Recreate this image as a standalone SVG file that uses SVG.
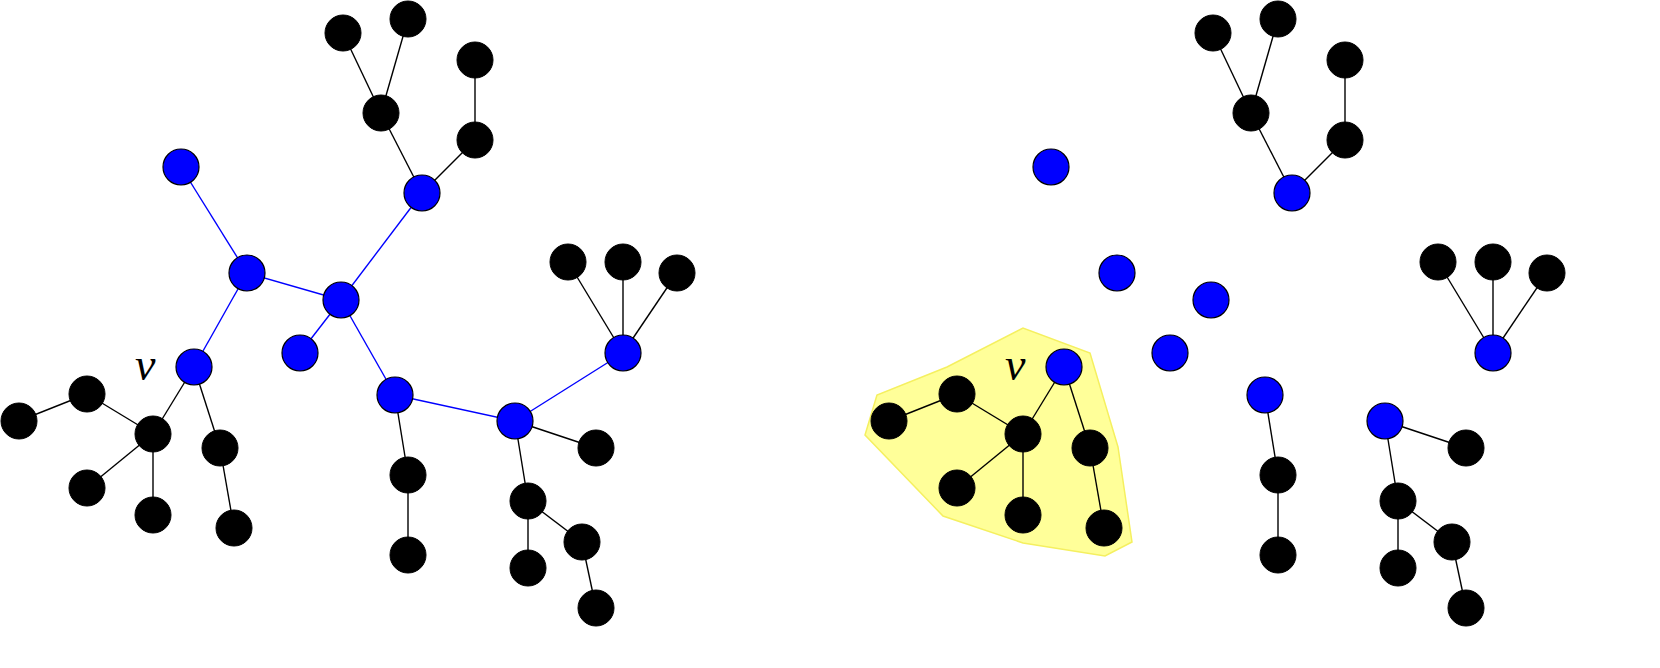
<svg xmlns="http://www.w3.org/2000/svg" xmlns:xlink="http://www.w3.org/1999/xlink" width="1660" height="668" viewBox="0 0 1660 668">
<style>
.b{fill:#0000ff;stroke:#000;stroke-width:1.2}
.k{fill:#000;stroke:#000}
.eb{stroke:#0000ff;stroke-width:1.4}
.ek{stroke:#000;stroke-width:1.4}
.v{font-family:'Liberation Serif',serif;font-style:italic;font-size:46px}
</style>
<rect width="1660" height="668" fill="#fff"/>
<polygon id="hull" points="877,395 865,435 943,516 1023,543 1105,556 1132,542 1118,447 1090,353 1023,328 947,367" fill="#ffff99" stroke="#f5f060" stroke-width="1.5"/>
<g id="connectors">
<g class="eb">
<line x1="181" y1="167" x2="247" y2="273"/><line x1="247" y1="273" x2="194" y2="367"/><line x1="247" y1="273" x2="341" y2="300"/><line x1="341" y1="300" x2="422" y2="193"/><line x1="341" y1="300" x2="300" y2="353"/><line x1="341" y1="300" x2="395" y2="395"/><line x1="395" y1="395" x2="515" y2="421"/><line x1="515" y1="421" x2="623" y2="353"/>
</g>
<g id="blackEdges" class="ek">
<line x1="343" y1="33" x2="381" y2="113"/><line x1="408" y1="19" x2="381" y2="113"/><line x1="381" y1="113" x2="422" y2="193"/><line x1="475" y1="60" x2="475" y2="140"/><line x1="475" y1="140" x2="422" y2="193"/>
<line x1="568" y1="262" x2="623" y2="353"/><line x1="623" y1="262" x2="623" y2="353"/><line x1="677" y1="273" x2="623" y2="353"/>
<line x1="194" y1="367" x2="153" y2="434"/><line x1="194" y1="367" x2="220" y2="448"/><line x1="87" y1="394" x2="19" y2="421"/><line x1="87" y1="394" x2="153" y2="434"/><line x1="153" y1="434" x2="87" y2="488"/><line x1="153" y1="434" x2="153" y2="515"/><line x1="220" y1="448" x2="234" y2="528"/>
<line x1="395" y1="395" x2="408" y2="475"/><line x1="408" y1="475" x2="408" y2="555"/>
<line x1="515" y1="421" x2="596" y2="448"/><line x1="515" y1="421" x2="528" y2="501"/><line x1="528" y1="501" x2="582" y2="542"/><line x1="528" y1="501" x2="528" y2="568"/><line x1="582" y1="542" x2="596" y2="608"/>
</g>
<use xlink:href="#blackEdges" x="870"/>
</g>
<g id="nodesLeft">
<g class="b">
<circle cx="181" cy="167" r="18"/><circle cx="247" cy="273" r="18"/><circle cx="341" cy="300" r="18"/><circle cx="422" cy="193" r="18"/><circle cx="194" cy="367" r="18"/><circle cx="300" cy="353" r="18"/><circle cx="395" cy="395" r="18"/><circle cx="515" cy="421" r="18"/><circle cx="623" cy="353" r="18"/>
</g>
<g class="k">
<circle cx="343" cy="33" r="18"/><circle cx="408" cy="19" r="18"/><circle cx="381" cy="113" r="18"/><circle cx="475" cy="60" r="18"/><circle cx="475" cy="140" r="18"/>
<circle cx="568" cy="262" r="18"/><circle cx="623" cy="262" r="18"/><circle cx="677" cy="273" r="18"/>
<circle cx="87" cy="394" r="18"/><circle cx="19" cy="421" r="18"/><circle cx="153" cy="434" r="18"/><circle cx="220" cy="448" r="18"/><circle cx="87" cy="488" r="18"/><circle cx="153" cy="515" r="18"/><circle cx="234" cy="528" r="18"/>
<circle cx="408" cy="475" r="18"/><circle cx="408" cy="555" r="18"/>
<circle cx="596" cy="448" r="18"/><circle cx="528" cy="501" r="18"/><circle cx="582" cy="542" r="18"/><circle cx="528" cy="568" r="18"/><circle cx="596" cy="608" r="18"/>
</g>
</g>
<use id="nodesRight" xlink:href="#nodesLeft" x="870"/>
<text class="v" x="135" y="380">v</text>
<text class="v" x="1005" y="380">v</text>
</svg>
